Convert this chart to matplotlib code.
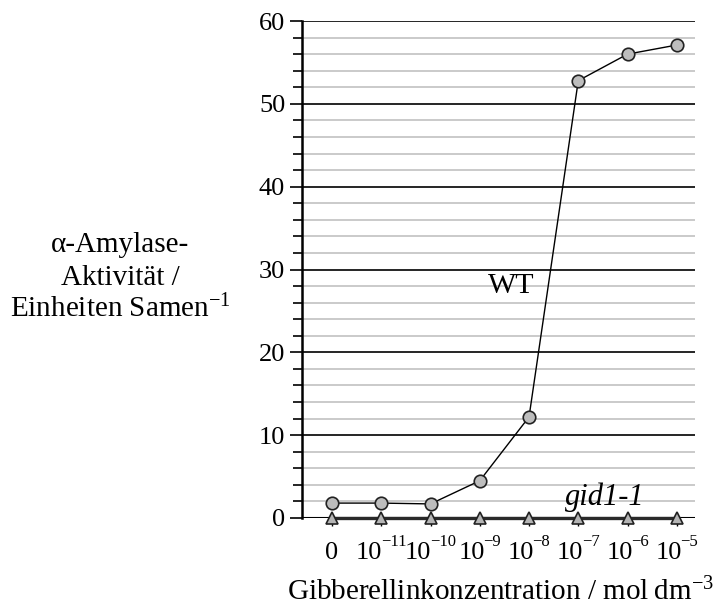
import matplotlib
matplotlib.use("Agg")
import matplotlib.pyplot as plt
from matplotlib.ticker import MultipleLocator
from matplotlib.transforms import blended_transform_factory, offset_copy

plt.rcParams['font.family'] = ['Liberation Serif', 'DejaVu Serif']
plt.rcParams['mathtext.fontset'] = 'custom'
plt.rcParams['mathtext.rm'] = 'Liberation Serif'
plt.rcParams['mathtext.it'] = 'Liberation Serif:italic'

# tick labels: base and exponent
tick_bases = ["0", "10", "10", "10", "10", "10", "10", "10"]
tick_exps = ["", "\u221211", "\u221210", "\u22129", "\u22128", "\u22127", "\u22126", "\u22125"]
wt_values = [1.8, 1.8, 1.7, 4.5, 12.2, 52.8, 56.0, 57.1]
gid_values = [0.0, 0.0, 0.0, 0.0, 0.0, 0.0, 0.0, 0.0]
ylabel_lines = ["α-Amylase-", "Aktivität /", "Einheiten Samen$^{-1}$"]
xlabel = "Gibberellinkonzentration / mol\u2009dm$^{-3}$"

W, H = 726, 605
fig = plt.figure(figsize=(W/100, H/100), dpi=100)
ax = fig.add_axes([302/W, 1-518/H, (695-302)/W, (518-21)/H])

x = list(range(len(tick_bases)))

# grid lines
for v in range(2, 61, 2):
    if v % 10 == 0:
        ax.axhline(v, color='black', lw=1.2, zorder=1)
    else:
        ax.axhline(v, color='#c6c6c6', lw=1.3, zorder=1)
ax.axhline(0, color='black', lw=1.5, zorder=1)

ax.plot(x, gid_values, color='#2a2a2a', lw=2.4, marker='^', ms=9,
        mfc='#b5b5b5', mec='#222222', mew=1.2, clip_on=False, zorder=3)
ax.plot(x, wt_values, color='black', lw=1.0, marker='o', ms=9,
        mfc='#bdbdbd', mec='#222222', mew=1.2, clip_on=False, zorder=4)

ax.set_xlim(-0.61, 7.37)
ax.set_ylim(0, 60)

for s in ['top', 'right', 'bottom']:
    ax.spines[s].set_visible(False)
ax.spines['left'].set_linewidth(1.8)

ax.yaxis.set_major_locator(MultipleLocator(10))
ax.yaxis.set_minor_locator(MultipleLocator(2))
ax.tick_params(axis='y', which='major', length=8.6, width=1.2, pad=3.5, labelsize=19)
ax.tick_params(axis='y', which='minor', length=6.5, width=1.2)

ax.set_xticks(x)
ax.set_xticklabels([""] * len(x))
ax.tick_params(axis='x', which='major', length=6, width=1.0, direction='out')

# custom x tick labels: base + superscript exponent
trans = blended_transform_factory(ax.transData, ax.transAxes)
pairs = []
for i, (b, e) in enumerate(zip(tick_bases, tick_exps)):
    t1 = ax.text(i, 0, b, transform=trans, fontsize=19, ha='left', va='baseline', clip_on=False)
    t2 = ax.text(i, 0, e, transform=trans, fontsize=12, ha='left', va='baseline', clip_on=False)
    pairs.append((t1, t2))
fig.canvas.draw()
r = fig.canvas.get_renderer()
for i, (t1, t2) in enumerate(pairs):
    w1 = t1.get_window_extent(r).width
    w2 = (t2.get_window_extent(r).width - 1.5) if tick_exps[i] else 0.0
    left = -(w1 + w2) / 2.0
    t1.set_transform(offset_copy(trans, fig=fig, x=left, y=-41, units='dots'))
    t2.set_transform(offset_copy(trans, fig=fig, x=left + w1 - 1.5, y=-28, units='dots'))

ax.text(3.63, 27.2, "WT", fontsize=21.5, ha='center', va='baseline', zorder=5)
ax.text(5.54, 1.6, "gid1-1", fontsize=22, style='italic', ha='center', va='baseline', zorder=5)

for line, yb in zip(ylabel_lines, [252, 285, 317]):
    fig.text(120/W, 1-yb/H, line, ha='center', va='baseline', fontsize=21)
fig.text(500/W, 1-600/H, xlabel, ha='center', va='baseline', fontsize=21)

fig.savefig("out.png", dpi=100)
